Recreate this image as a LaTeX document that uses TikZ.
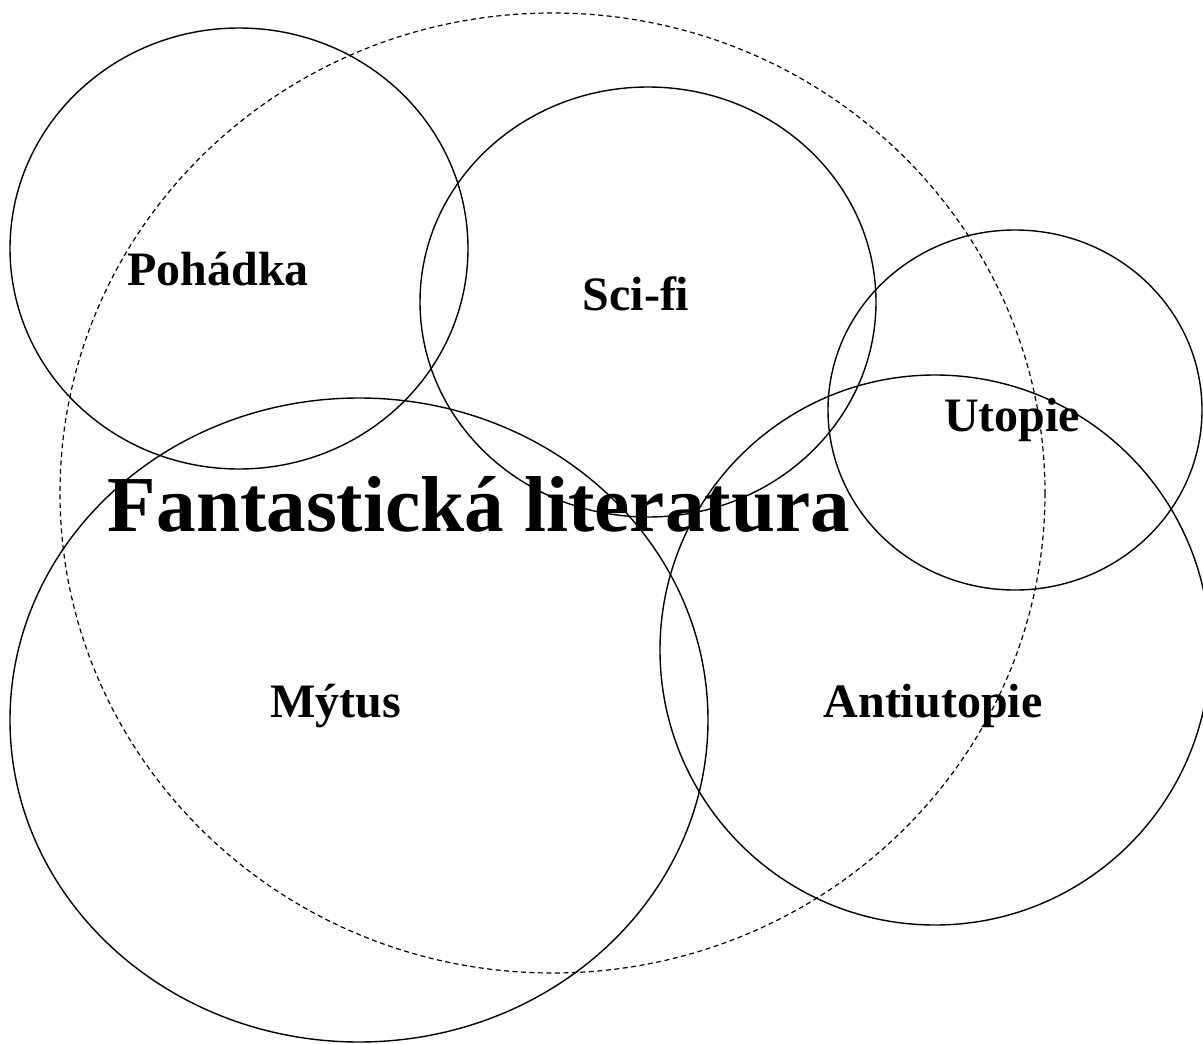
\documentclass[tikz,border=0pt]{standalone}
\usepackage{fontspec}
\setmainfont{Liberation Serif}
\begin{document}
\begin{tikzpicture}[x=1pt,y=-1pt,
  ring/.style={draw=black,line width=1.4pt},
  outer/.style={draw=black,line width=1.2pt,dash pattern=on 5pt off 3.5pt},
  lbl/.style={font=\bfseries\fontsize{48}{56}\selectfont,anchor=base,inner sep=0pt},
  title/.style={font=\bfseries\fontsize{79.3}{90}\selectfont,anchor=base,inner sep=0pt}]
\useasboundingbox (0,0) rectangle (1203,1044);
\draw[outer] (552.5,493) ellipse [x radius=492.5, y radius=480];
\draw[ring] (239,248.5) ellipse [x radius=229, y radius=220.5];
\draw[ring] (648,302) ellipse [x radius=228, y radius=215];
\draw[ring] (1015,410) ellipse [x radius=187, y radius=180];
\draw[ring] (359,720) ellipse [x radius=349, y radius=322];
\draw[ring] (935,650) ellipse [x radius=275, y radius=275];
\node[lbl] (poh) at (218,285) {Pohádka};
\node[lbl] (sci) at (636,310) {Sci-fi};
\node[lbl] (uto) at (1012,431) {Utopie};
\node[title] (fan) at (479,531) {Fantastická literatura};
\node[lbl] (myt) at (336,717) {Mýtus};
\node[lbl] (ant) at (933,717) {Antiutopie};
\end{tikzpicture}
\end{document}
